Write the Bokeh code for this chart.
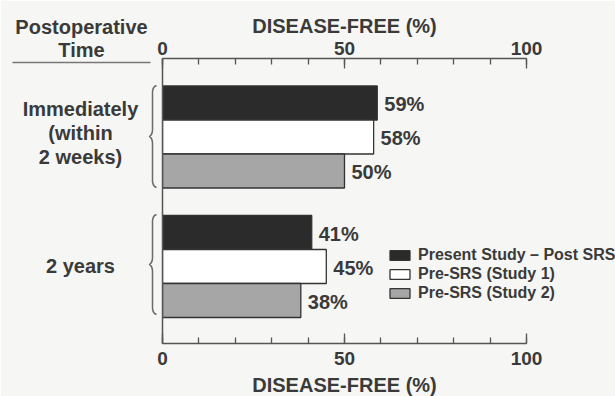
from bokeh.plotting import figure
from bokeh.models import (Range1d, LinearAxis, FixedTicker, ColumnDataSource,
                          Legend, LegendItem)
from bokeh.core.properties import value
from bokeh.embed import file_html
from bokeh.resources import INLINE

# ---- data -------------------------------------------------------------
periods = ["Immediately\n(within\n2 weeks)", "2 years"]
series_names = ["Present Study \u2013 Post SRS", "Pre-SRS (Study 1)", "Pre-SRS (Study 2)"]
present_post_srs = [59, 41]
pre_srs_study1 = [58, 45]
pre_srs_study2 = [50, 38]
x_major_ticks = [0, 50, 100]
x_minor_ticks = [0, 10, 20, 30, 40, 50, 60, 70, 80, 90, 100]
axis_title = "DISEASE-FREE (%)"
header = "Postoperative\nTime"

# ---- layout -----------------------------------------------------------
W, H = 615, 396
FL, FR, FT, FB = 162, 526, 58, 343          # axis box edges in pixels
FONT = "Liberation Sans"
INK = "#3a3a3a"
BG = "#f6f6f4"
LINE = "#555555"
series_colors = ["#2b2b2b", "#ffffff", "#a6a6a6"]

px_per_unit = (FR - FL) / 100.0


def px2x(px):
    """pixel column -> data x (percent scale)"""
    return (px - FL) / px_per_unit


# the frame runs to the right edge so the legend has room; axes stop at 100
p = figure(width=W, height=H, output_backend="svg", toolbar_location=None,
           x_range=Range1d(0, px2x(W)), y_range=Range1d(FB, FT),
           x_axis_location="above",
           min_border_left=FL, min_border_right=0,
           min_border_top=FT, min_border_bottom=H - FB)
p.background_fill_color = BG
p.border_fill_color = BG
p.outline_line_color = None
p.grid.visible = False


def style_x_axis(ax, standoff):
    ax.bounds = (0, 100)
    ax.ticker = FixedTicker(ticks=x_major_ticks, minor_ticks=x_minor_ticks)
    ax.major_label_text_font = FONT
    ax.major_label_text_font_style = "bold"
    ax.major_label_text_font_size = "19px"
    ax.major_label_text_color = INK
    ax.major_label_standoff = standoff
    ax.axis_line_color = LINE
    ax.axis_line_width = 1.5
    ax.major_tick_line_color = LINE
    ax.major_tick_line_width = 1.3
    ax.minor_tick_line_color = LINE
    ax.minor_tick_line_width = 1.3
    ax.major_tick_in = 10
    ax.major_tick_out = 0
    ax.minor_tick_in = 6
    ax.minor_tick_out = 0


top_axis = p.xaxis[0]
style_x_axis(top_axis, 4)

bottom_axis = LinearAxis()
style_x_axis(bottom_axis, 8)
p.add_layout(bottom_axis, "below")

yax = p.yaxis[0]
yax.ticker = FixedTicker(ticks=[])
yax.major_label_text_font_size = "0px"
yax.axis_line_color = LINE
yax.axis_line_width = 1.5
yax.major_tick_line_color = None
yax.minor_tick_line_color = None

# axis titles, centred over the 0-100 scale
for ty in (25, 384.5):
    tt = p.text(x=[50], y=[ty], text=[axis_title], text_font=value(FONT),
                text_font_style="bold", text_font_size="20px", text_color=INK,
                text_align="center", text_baseline="middle")
    tt.level = "overlay"

# ---- bars -------------------------------------------------------------
group_centers = [136.5, 266]
bar_h = 34
offsets = [-bar_h, 0, bar_h]
all_values = [present_post_srs, pre_srs_study1, pre_srs_study2]

legend_items = []
for name, vals, off, col in zip(series_names, all_values, offsets, series_colors):
    src = ColumnDataSource(dict(
        y=[c + off for c in group_centers],
        v=vals,
        lab=[f"{v}%" for v in vals],
    ))
    r = p.hbar(y="y", height=bar_h, left=0, right="v", source=src,
               fill_color=col, line_color="#333333", line_width=1.3)
    legend_items.append(LegendItem(label=name, renderers=[r]))
    p.text(x="v", y="y", text="lab", source=src, x_offset=7, y_offset=1,
           text_font=value(FONT), text_font_style="bold", text_font_size="20px",
           text_color=INK, text_baseline="middle", text_align="left")

# ---- left-hand labels -------------------------------------------------
label_y = [132.5, 265]
for lab, ly in zip(periods, label_y):
    t = p.text(x=[px2x(80)], y=[ly], text=[lab], text_font=value(FONT),
               text_font_style="bold", text_font_size="20px", text_color=INK,
               text_align="center", text_baseline="middle", text_line_height=1.1)
    t.level = "overlay"

t = p.text(x=[px2x(81)], y=[38], text=[header], text_font=value(FONT),
           text_font_style="bold", text_font_size="20px", text_color=INK,
           text_align="center", text_baseline="middle", text_line_height=1.08)
t.level = "overlay"

u = p.line(x=[px2x(12), px2x(150)], y=[62, 62], line_color="#777777", line_width=1.5)
u.level = "overlay"


# ---- braces -----------------------------------------------------------
def brace(x0, top, bottom):
    mid = (top + bottom) / 2.0
    upper = [(x0 + 4, top), (x0 + 2, top + 1), (x0 + 0.7, top + 3), (x0, top + 6),
             (x0, mid - 6), (x0 - 0.6, mid - 3), (x0 - 1.8, mid - 1), (x0 - 3.2, mid)]
    lower = [(x, bottom - (y - top)) for (x, y) in reversed(upper[:-1])]
    pts = upper + lower
    return [px2x(x) for x, _ in pts], [y for _, y in pts]


for top, bottom in [(85, 187), (214, 314)]:
    bx, by = brace(152, top, bottom)
    b = p.line(x=bx, y=by, line_color="#6a6a6a", line_width=1.5)
    b.level = "overlay"

# ---- legend -----------------------------------------------------------
legend = Legend(items=legend_items, location=(225, 41),
                padding=0, margin=0, spacing=0,
                glyph_width=25, glyph_height=12, label_height=19,
                label_standoff=6, border_line_color=None,
                background_fill_alpha=0,
                label_text_font=FONT, label_text_font_style="bold",
                label_text_font_size="16px", label_text_color=INK)
p.add_layout(legend)

open("out.html", "w").write(file_html(p, INLINE))
